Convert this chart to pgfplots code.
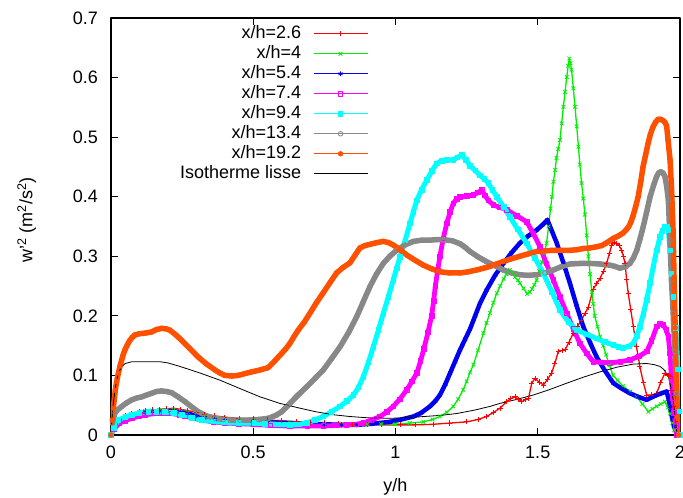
\documentclass[border=0pt]{standalone}
\usepackage{fontspec}
\setmainfont{Liberation Sans}
\usepackage{pgfplots}
\pgfplotsset{compat=1.18}
\definecolor{cred}{RGB}{255,0,0}
\definecolor{cgreen}{RGB}{0,238,0}
\definecolor{cblue}{RGB}{0,0,240}
\definecolor{cmag}{RGB}{255,0,255}
\definecolor{ccyan}{RGB}{0,255,255}
\definecolor{cgray}{RGB}{136,136,136}
\definecolor{corange}{RGB}{255,80,0}
\begin{document}
\fontsize{18}{21}\selectfont
\begin{tikzpicture}
\begin{axis}[
  name=ax,
  scale only axis, width=569pt, height=417pt,
  xmin=0, xmax=2, ymin=0, ymax=0.7,
  xtick={0,0.5,1,1.5,2}, xticklabels={0,0.5,1,1.5,2},
  ytick={0,0.1,0.2,0.3,0.4,0.5,0.6,0.7},
  yticklabels={0,0.1,0.2,0.3,0.4,0.5,0.6,0.7},
  /pgf/number format/assume math mode=true,
  tick align=inside, major tick length=7pt,
  every tick/.style={black, line width=0.9pt},
  axis line style={line width=1.3pt, black},
  xticklabel style={inner sep=0pt, anchor=north, yshift=-11pt},
  yticklabel style={inner sep=0pt, anchor=east, xshift=-13pt},
  xlabel={y/h},
  ylabel={w'\textsuperscript{2} (m\textsuperscript{2}/s\textsuperscript{2})},
  xlabel style={at={(axis description cs:0.5,-0.125)}, anchor=center, inner sep=0pt},
  ylabel style={at={(axis description cs:-0.148,0.515)}, anchor=center, inner sep=0pt},
  line join=round,
  legend cell align=right,
  legend plot pos=right,
  legend style={at={(0.452,0.983)}, anchor=north east, draw=none, fill=none,
    inner sep=0pt, column sep=12pt, row sep=3pt,
    nodes={inner sep=0pt, text height=13pt, text depth=4pt}},
  legend image code/.code={\draw[line width=0.9pt, mark repeat=2, mark phase=2]
    plot coordinates {(0pt,0pt) (27pt,0pt) (54pt,0pt)};},
]
% x/h=2.6
\addplot[color=cred, line width=1.3pt, mark=+, mark size=2.6pt, mark options={solid, line width=0.8pt}] coordinates {
(0,0) (0.01,0.012) (0.03,0.026) (0.05,0.032) (0.073,0.036) (0.1,0.039) (0.12,0.041) (0.145,0.042) (0.17,0.043) (0.195,0.044) (0.22,0.045) (0.245,0.043) (0.27,0.041) (0.3,0.038) (0.33,0.035) (0.365,0.032) (0.40,0.030) (0.45,0.028) (0.50,0.027) (0.55,0.025) (0.60,0.024) (0.65,0.022) (0.70,0.021) (0.75,0.020) (0.80,0.019) (0.85,0.018) (0.90,0.018) (0.95,0.017) (1.016,0.017) (1.07,0.017) (1.133,0.018) (1.19,0.020) (1.25,0.022) (1.29,0.026) (1.32,0.031) (1.345,0.038) (1.367,0.045) (1.391,0.056) (1.405,0.061) (1.42,0.064) (1.432,0.060) (1.444,0.056) (1.456,0.059) (1.467,0.061) (1.479,0.087) (1.49,0.095) (1.505,0.089) (1.52,0.084) (1.535,0.094) (1.549,0.104) (1.56,0.12) (1.572,0.14) (1.585,0.142) (1.596,0.143) (1.61,0.156) (1.625,0.171) (1.64,0.183) (1.654,0.193) (1.666,0.204) (1.678,0.215) (1.695,0.245) (1.707,0.254) (1.719,0.263) (1.73,0.274) (1.742,0.288) (1.752,0.305) (1.76,0.319) (1.768,0.323) (1.777,0.322) (1.786,0.318) (1.795,0.31) (1.801,0.300) (1.807,0.288) (1.812,0.262) (1.818,0.238) (1.827,0.21) (1.836,0.182) (1.847,0.148) (1.859,0.115) (1.871,0.088) (1.883,0.067) (1.9,0.067) (1.918,0.07) (1.932,0.088) (1.947,0.104) (1.958,0.100) (1.965,0.098) (1.97,0.075) (1.976,0.048) (1.983,0.022) (1.99,0)};
\addlegendentry{x/h=2.6}
% x/h=4
\addplot[color=cgreen, line width=1.3pt, mark=x, mark size=2.6pt, mark options={solid, line width=0.8pt}] coordinates {
(0,0) (0.01,0.012) (0.03,0.025) (0.05,0.030) (0.073,0.034) (0.1,0.038) (0.12,0.040) (0.145,0.041) (0.17,0.042) (0.195,0.042) (0.22,0.042) (0.245,0.040) (0.27,0.038) (0.3,0.034) (0.33,0.031) (0.365,0.028) (0.40,0.026) (0.45,0.024) (0.50,0.023) (0.55,0.022) (0.629,0.021) (0.69,0.020) (0.75,0.019) (0.82,0.018) (0.90,0.018) (0.95,0.018) (1.0,0.018) (1.05,0.020) (1.098,0.022) (1.13,0.026) (1.156,0.031) (1.18,0.038) (1.203,0.048) (1.22,0.060) (1.238,0.076) (1.25,0.09) (1.262,0.105) (1.274,0.118) (1.29,0.142) (1.309,0.171) (1.32,0.188) (1.332,0.205) (1.344,0.222) (1.356,0.238) (1.368,0.25) (1.38,0.262) (1.39,0.270) (1.402,0.277) (1.412,0.272) (1.42,0.265) (1.43,0.26) (1.437,0.255) (1.45,0.246) (1.463,0.237) (1.472,0.24) (1.48,0.245) (1.488,0.252) (1.496,0.26) (1.505,0.275) (1.515,0.29) (1.523,0.305) (1.531,0.322) (1.538,0.35) (1.545,0.38) (1.55,0.40) (1.555,0.425) (1.561,0.445) (1.566,0.465) (1.572,0.48) (1.578,0.495) (1.584,0.523) (1.59,0.551) (1.596,0.576) (1.602,0.601) (1.607,0.62) (1.611,0.632) (1.615,0.624) (1.619,0.613) (1.625,0.582) (1.631,0.551) (1.637,0.518) (1.643,0.484) (1.648,0.454) (1.654,0.423) (1.66,0.397) (1.666,0.37) (1.672,0.335) (1.678,0.30) (1.684,0.27) (1.69,0.24) (1.695,0.22) (1.70,0.20) (1.71,0.182) (1.719,0.165) (1.73,0.150) (1.74,0.135) (1.752,0.117) (1.765,0.10) (1.78,0.092) (1.80,0.082) (1.825,0.073) (1.848,0.064) (1.868,0.052) (1.889,0.039) (1.903,0.044) (1.918,0.048) (1.932,0.052) (1.947,0.056) (1.957,0.046) (1.965,0.036) (1.973,0.02) (1.98,0.008) (1.99,0)};
\addlegendentry{x/h=4}
% x/h=5.4
\addplot[color=cblue, line width=4.5pt, mark=asterisk, mark size=2.4pt, mark options={solid, line width=0.8pt}] coordinates {
(0,0) (0.01,0.012) (0.03,0.025) (0.05,0.029) (0.073,0.033) (0.1,0.036) (0.12,0.038) (0.145,0.039) (0.17,0.040) (0.195,0.040) (0.22,0.040) (0.245,0.038) (0.27,0.036) (0.30,0.032) (0.33,0.029) (0.365,0.026) (0.40,0.024) (0.45,0.023) (0.50,0.022) (0.55,0.021) (0.629,0.020) (0.69,0.019) (0.75,0.018) (0.81,0.017) (0.864,0.017) (0.92,0.019) (0.98,0.022) (1.02,0.026) (1.063,0.031) (1.09,0.037) (1.121,0.048) (1.14,0.057) (1.156,0.067) (1.175,0.085) (1.192,0.104) (1.21,0.124) (1.227,0.143) (1.245,0.161) (1.262,0.178) (1.28,0.200) (1.297,0.221) (1.32,0.243) (1.35,0.268) (1.379,0.288) (1.408,0.306) (1.437,0.322) (1.466,0.334) (1.496,0.344) (1.515,0.352) (1.534,0.361) (1.55,0.342) (1.567,0.322) (1.59,0.289) (1.613,0.255) (1.636,0.218) (1.66,0.182) (1.684,0.155) (1.707,0.131) (1.736,0.108) (1.766,0.087) (1.795,0.078) (1.824,0.07) (1.853,0.064) (1.883,0.059) (1.9,0.063) (1.918,0.067) (1.935,0.070) (1.953,0.073) (1.96,0.060) (1.965,0.048) (1.972,0.030) (1.979,0.014) (1.99,0)};
\addlegendentry{x/h=5.4}
% x/h=7.4
\addplot[color=cmag, line width=4.8pt, mark=square, mark size=2.3pt, mark options={solid, line width=0.8pt}] coordinates {
(0,0) (0.01,0.01) (0.03,0.02) (0.05,0.024) (0.073,0.028) (0.1,0.032) (0.12,0.034) (0.155,0.036) (0.185,0.036) (0.213,0.036) (0.24,0.034) (0.26,0.032) (0.29,0.028) (0.32,0.025) (0.36,0.022) (0.40,0.02) (0.45,0.019) (0.50,0.018) (0.56,0.016) (0.629,0.015) (0.69,0.015) (0.746,0.015) (0.79,0.016) (0.828,0.017) (0.86,0.018) (0.887,0.020) (0.915,0.025) (0.946,0.031) (0.97,0.039) (0.992,0.048) (1.015,0.06) (1.04,0.076) (1.058,0.09) (1.075,0.104) (1.088,0.124) (1.10,0.145) (1.114,0.172) (1.127,0.20) (1.134,0.225) (1.14,0.25) (1.148,0.275) (1.156,0.30) (1.168,0.33) (1.18,0.355) (1.192,0.374) (1.203,0.389) (1.215,0.396) (1.227,0.40) (1.25,0.401) (1.274,0.403) (1.29,0.407) (1.303,0.411) (1.315,0.402) (1.326,0.394) (1.344,0.386) (1.368,0.382) (1.391,0.378) (1.426,0.368) (1.461,0.358) (1.485,0.338) (1.508,0.316) (1.53,0.288) (1.555,0.26) (1.578,0.232) (1.602,0.204) (1.625,0.178) (1.648,0.154) (1.672,0.137) (1.695,0.123) (1.725,0.122) (1.754,0.121) (1.79,0.123) (1.824,0.126) (1.855,0.132) (1.883,0.14) (1.9,0.158) (1.918,0.182) (1.93,0.186) (1.941,0.185) (1.952,0.176) (1.959,0.165) (1.965,0.137) (1.97,0.092) (1.975,0.062) (1.979,0.037) (1.985,0.015) (1.99,0)};
\addlegendentry{x/h=7.4}
% x/h=9.4
\addplot[color=ccyan, line width=5pt, mark=square*, mark size=2.3pt, mark options={solid, line width=0.7pt}] coordinates {
(0,0) (0.01,0.012) (0.026,0.025) (0.05,0.030) (0.073,0.034) (0.10,0.037) (0.131,0.039) (0.16,0.039) (0.19,0.039) (0.22,0.037) (0.248,0.034) (0.285,0.029) (0.319,0.025) (0.36,0.023) (0.40,0.021) (0.45,0.020) (0.506,0.020) (0.54,0.019) (0.58,0.018) (0.629,0.017) (0.66,0.018) (0.688,0.020) (0.716,0.025) (0.746,0.031) (0.775,0.039) (0.805,0.048) (0.83,0.057) (0.852,0.067) (0.87,0.08) (0.887,0.098) (0.905,0.122) (0.922,0.148) (0.94,0.176) (0.957,0.204) (0.975,0.232) (0.992,0.26) (1.004,0.28) (1.016,0.299) (1.034,0.327) (1.051,0.355) (1.063,0.375) (1.075,0.394) (1.092,0.412) (1.11,0.428) (1.128,0.443) (1.145,0.456) (1.162,0.460) (1.18,0.462) (1.203,0.462) (1.218,0.466) (1.233,0.47) (1.248,0.462) (1.262,0.452) (1.28,0.444) (1.297,0.436) (1.312,0.43) (1.326,0.423) (1.34,0.412) (1.356,0.40) (1.38,0.383) (1.402,0.366) (1.43,0.345) (1.461,0.322) (1.49,0.297) (1.52,0.271) (1.55,0.24) (1.578,0.21) (1.607,0.19) (1.637,0.176) (1.672,0.169) (1.707,0.162) (1.736,0.156) (1.766,0.151) (1.783,0.148) (1.80,0.146) (1.82,0.149) (1.836,0.154) (1.848,0.166) (1.859,0.182) (1.871,0.203) (1.883,0.227) (1.895,0.255) (1.906,0.283) (1.918,0.31) (1.93,0.333) (1.938,0.343) (1.947,0.35) (1.954,0.349) (1.959,0.344) (1.965,0.31) (1.97,0.271) (1.976,0.232) (1.985,0.18) (1.993,0.11) (1.998,0.04) (2.0,0)};
\addlegendentry{x/h=9.4}
% x/h=13.4
\addplot[color=cgray, line width=5.5pt, mark=o, mark size=2.3pt, mark options={solid, line width=0.8pt}] coordinates {
(0,0) (0.005,0.02) (0.014,0.037) (0.025,0.043) (0.038,0.048) (0.055,0.054) (0.073,0.059) (0.09,0.062) (0.108,0.064) (0.125,0.067) (0.143,0.070) (0.16,0.073) (0.178,0.074) (0.195,0.073) (0.213,0.071) (0.236,0.064) (0.26,0.056) (0.284,0.047) (0.307,0.039) (0.336,0.032) (0.366,0.028) (0.395,0.026) (0.424,0.025) (0.453,0.025) (0.483,0.025) (0.518,0.026) (0.553,0.028) (0.58,0.033) (0.60,0.039) (0.615,0.046) (0.629,0.053) (0.647,0.062) (0.668,0.072) (0.688,0.081) (0.717,0.095) (0.746,0.109) (0.775,0.128) (0.805,0.148) (0.835,0.172) (0.864,0.199) (0.887,0.224) (0.91,0.249) (0.933,0.270) (0.957,0.288) (0.98,0.300) (1.004,0.31) (1.033,0.319) (1.063,0.325) (1.092,0.327) (1.121,0.327) (1.145,0.328) (1.168,0.328) (1.2,0.326) (1.227,0.321) (1.245,0.315) (1.262,0.308) (1.29,0.299) (1.32,0.291) (1.35,0.284) (1.379,0.277) (1.408,0.272) (1.437,0.269) (1.466,0.268) (1.496,0.269) (1.525,0.272) (1.555,0.277) (1.585,0.283) (1.613,0.287) (1.65,0.288) (1.684,0.288) (1.72,0.287) (1.754,0.285) (1.772,0.283) (1.789,0.28) (1.81,0.283) (1.824,0.288) (1.836,0.297) (1.848,0.31) (1.86,0.33) (1.871,0.35) (1.883,0.375) (1.895,0.40) (1.907,0.419) (1.918,0.434) (1.925,0.440) (1.932,0.442) (1.94,0.44) (1.947,0.434) (1.953,0.418) (1.959,0.394) (1.965,0.327) (1.97,0.26) (1.976,0.204) (1.982,0.14) (1.988,0.07) (1.995,0)};
\addlegendentry{x/h=13.4}
% x/h=19.2
\addplot[color=corange, line width=5.5pt, mark=*, mark size=2.3pt, mark options={solid, line width=0.7pt}] coordinates {
(0,0) (0.004,0.025) (0.008,0.045) (0.015,0.075) (0.02,0.09) (0.026,0.104) (0.032,0.116) (0.037,0.125) (0.043,0.135) (0.049,0.143) (0.057,0.151) (0.065,0.158) (0.075,0.164) (0.084,0.168) (0.10,0.170) (0.12,0.171) (0.143,0.173) (0.16,0.177) (0.178,0.179) (0.195,0.178) (0.207,0.176) (0.228,0.168) (0.248,0.159) (0.277,0.145) (0.306,0.131) (0.336,0.119) (0.366,0.109) (0.383,0.104) (0.40,0.100) (0.425,0.099) (0.447,0.100) (0.47,0.103) (0.495,0.106) (0.523,0.109) (0.552,0.113) (0.575,0.124) (0.60,0.137) (0.615,0.145) (0.629,0.154) (0.643,0.165) (0.658,0.176) (0.68,0.19) (0.70,0.205) (0.722,0.222) (0.745,0.238) (0.77,0.256) (0.793,0.272) (0.815,0.281) (0.84,0.289) (0.858,0.302) (0.875,0.314) (0.893,0.318) (0.91,0.32) (0.935,0.323) (0.957,0.325) (0.975,0.323) (0.992,0.319) (1.016,0.311) (1.04,0.302) (1.07,0.293) (1.098,0.285) (1.127,0.279) (1.156,0.274) (1.19,0.272) (1.227,0.272) (1.256,0.274) (1.285,0.277) (1.31,0.28) (1.332,0.283) (1.355,0.287) (1.378,0.291) (1.408,0.296) (1.437,0.300) (1.466,0.304) (1.496,0.308) (1.525,0.309) (1.55,0.31) (1.58,0.31) (1.613,0.31) (1.637,0.311) (1.66,0.313) (1.684,0.314) (1.707,0.316) (1.725,0.318) (1.74,0.322) (1.753,0.326) (1.765,0.33) (1.783,0.334) (1.80,0.339) (1.81,0.344) (1.82,0.350) (1.828,0.358) (1.835,0.368) (1.844,0.383) (1.853,0.40) (1.862,0.425) (1.87,0.45) (1.879,0.47) (1.888,0.49) (1.896,0.505) (1.905,0.517) (1.914,0.525) (1.923,0.53) (1.932,0.53) (1.94,0.528) (1.947,0.525) (1.953,0.519) (1.958,0.495) (1.965,0.462) (1.97,0.417) (1.976,0.339) (1.979,0.265) (1.983,0.18) (1.986,0.10) (1.99,0.03) (1.995,0)};
\addlegendentry{x/h=19.2}
% Isotherme lisse
\addplot[color=black, line width=0.8pt, mark=none] coordinates {
(0,0) (0.004,0.03) (0.008,0.053) (0.014,0.075) (0.02,0.092) (0.028,0.106) (0.038,0.115) (0.05,0.12) (0.073,0.123) (0.12,0.123) (0.172,0.123) (0.2,0.121) (0.243,0.115) (0.313,0.104) (0.383,0.092) (0.453,0.078) (0.524,0.064) (0.594,0.053) (0.664,0.045) (0.72,0.039) (0.781,0.034) (0.84,0.031) (0.899,0.029) (0.98,0.028) (1.04,0.029) (1.1,0.031) (1.16,0.033) (1.215,0.036) (1.28,0.042) (1.332,0.048) (1.367,0.053) (1.42,0.059) (1.484,0.067) (1.54,0.076) (1.602,0.087) (1.66,0.097) (1.719,0.106) (1.78,0.114) (1.836,0.119) (1.883,0.12) (1.91,0.118) (1.93,0.115) (1.943,0.110) (1.95,0.105) (1.959,0.098) (1.968,0.08) (1.976,0.059) (1.982,0.035) (1.988,0.008) (1.99,0)};
\addlegendentry{Isotherme lisse}
\end{axis}
\pgfresetboundingbox
\path ([shift={(-111pt,-63pt)}]ax.south west) rectangle ([shift={(3pt,18pt)}]ax.north east);
\end{tikzpicture}
\end{document}
